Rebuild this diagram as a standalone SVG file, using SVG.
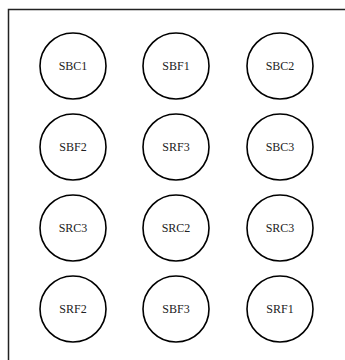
<svg xmlns="http://www.w3.org/2000/svg" width="345" height="360" viewBox="0 0 345 360">
<style>
.n circle{fill:#fff;stroke:#000;stroke-width:1.6}
.n text{font-family:"Liberation Serif","DejaVu Serif",serif;font-size:12px;fill:#222;text-anchor:middle;dominant-baseline:central}
</style>
<rect x="0" y="0" width="345" height="360" fill="#fff"/>
<rect x="8.5" y="9.5" width="345" height="360" fill="none" stroke="#222" stroke-width="1.5"/>
<g id="connectors"></g>
<g id="SBC1" class="n"><circle cx="73" cy="66" r="33"/><text x="73" y="66">SBC1</text></g>
<g id="SBF1" class="n"><circle cx="176" cy="66" r="33"/><text x="176" y="66">SBF1</text></g>
<g id="SBC2" class="n"><circle cx="280" cy="66" r="33"/><text x="280" y="66">SBC2</text></g>
<g id="SBF2" class="n"><circle cx="73" cy="147" r="33"/><text x="73" y="147">SBF2</text></g>
<g id="SRF3" class="n"><circle cx="176" cy="147" r="33"/><text x="176" y="147">SRF3</text></g>
<g id="SBC3" class="n"><circle cx="280" cy="147" r="33"/><text x="280" y="147">SBC3</text></g>
<g id="SRC3a" class="n"><circle cx="73" cy="228" r="33"/><text x="73" y="228">SRC3</text></g>
<g id="SRC2" class="n"><circle cx="176" cy="228" r="33"/><text x="176" y="228">SRC2</text></g>
<g id="SRC3b" class="n"><circle cx="280" cy="228" r="33"/><text x="280" y="228">SRC3</text></g>
<g id="SRF2" class="n"><circle cx="73" cy="309" r="33"/><text x="73" y="309">SRF2</text></g>
<g id="SBF3" class="n"><circle cx="176" cy="309" r="33"/><text x="176" y="309">SBF3</text></g>
<g id="SRF1" class="n"><circle cx="280" cy="309" r="33"/><text x="280" y="309">SRF1</text></g>
</svg>
